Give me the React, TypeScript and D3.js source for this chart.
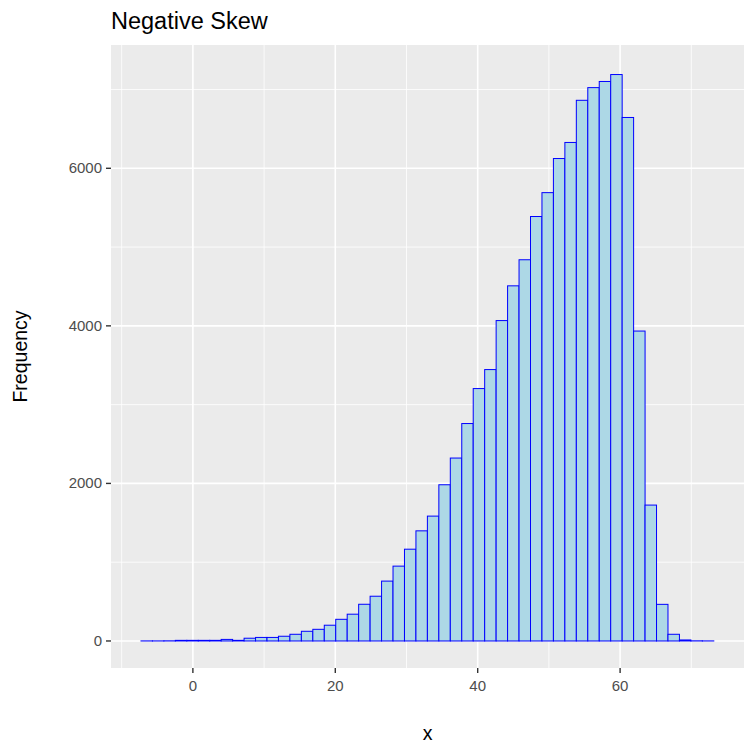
import * as d3 from 'd3';

const binStart = -7.29;
const binWidth = 1.609;
const counts = [
  1, 1, 2, 8, 8, 8, 8, 20, 8, 35, 45, 45, 60, 85, 123, 148, 200, 275, 340, 466,
  568, 760, 950, 1165, 1398, 1585, 1983, 2322, 2760, 3204, 3445, 4067, 4508, 4839, 5388, 5691, 6124, 6328, 6863, 7024,
  7102, 7190, 6645, 3934, 1725, 465, 85, 13, 2, 1,
];
const xTicks = [0, 20, 40, 60];
const xMinor = [-10, 10, 30, 50, 70];
const yTicks = [0, 2000, 4000, 6000];
const yMinor = [1000, 3000, 5000, 7000];

export default function App() {
  const W = 756, H = 756;
  const m = { top: 45, right: 12, bottom: 88, left: 111 };
  const x = d3.scaleLinear().domain([-11.5, 77.4]).range([m.left, W - m.right]);
  const y = d3.scaleLinear().domain([-343, 7565]).range([H - m.bottom, m.top]);
  const font = 'Liberation Sans, Arial, sans-serif';
  return (
    <svg width={W} height={H} style={{ position: 'absolute', left: 0, top: 0 }} fontFamily={font}>
      <rect width={W} height={H} fill="#fff" />
      <rect x={m.left} y={m.top} width={W - m.left - m.right} height={H - m.top - m.bottom} fill="#ebebeb" />
      {xMinor.map((t) => (
        <line key={'xm' + t} x1={x(t)} x2={x(t)} y1={m.top} y2={H - m.bottom} stroke="#fff" strokeWidth={0.8} />
      ))}
      {yMinor.map((t) => (
        <line key={'ym' + t} y1={y(t)} y2={y(t)} x1={m.left} x2={W - m.right} stroke="#fff" strokeWidth={0.8} />
      ))}
      {xTicks.map((t) => (
        <line key={'x' + t} x1={x(t)} x2={x(t)} y1={m.top} y2={H - m.bottom} stroke="#fff" strokeWidth={1.6} />
      ))}
      {yTicks.map((t) => (
        <line key={'y' + t} y1={y(t)} y2={y(t)} x1={m.left} x2={W - m.right} stroke="#fff" strokeWidth={1.6} />
      ))}
      {counts.map((c, i) => {
        const x0 = x(binStart + i * binWidth);
        const x1 = x(binStart + (i + 1) * binWidth);
        return (
          <rect key={i} x={x0} width={x1 - x0} y={y(c)} height={y(0) - y(c)}
            fill="#add8e6" stroke="#0000ff" strokeWidth={1} />
        );
      })}
      {xTicks.map((t) => (
        <g key={'xt' + t}>
          <line x1={x(t)} x2={x(t)} y1={H - m.bottom} y2={H - m.bottom + 5} stroke="#333" strokeWidth={1.4} />
          <text x={x(t)} y={H - m.bottom + 23} textAnchor="middle" fontSize={15} fill="#4d4d4d">{t}</text>
        </g>
      ))}
      {yTicks.map((t) => (
        <g key={'yt' + t}>
          <line x1={m.left - 5} x2={m.left} y1={y(t)} y2={y(t)} stroke="#333" strokeWidth={1.4} />
          <text x={m.left - 9} y={y(t) + 5} textAnchor="end" fontSize={15} fill="#4d4d4d">{t}</text>
        </g>
      ))}
      <text x={(m.left + W - m.right) / 2} y={740} textAnchor="middle" fontSize={19.5}>x</text>
      <text transform={`translate(27,${(m.top + H - m.bottom) / 2}) rotate(-90)`} textAnchor="middle" fontSize={19.5}>Frequency</text>
      <text x={m.left} y={29} fontSize={23.5}>Negative Skew</text>
    </svg>
  );
}
